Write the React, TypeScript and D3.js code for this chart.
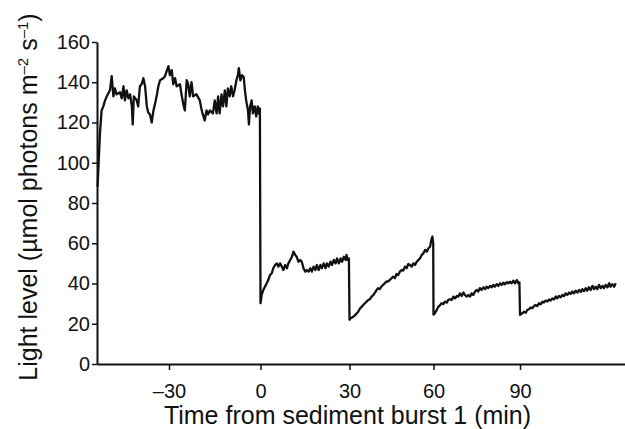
import React, { useEffect, useRef } from 'react';
import * as d3 from 'd3';

type Point = [number, number];

// [time from burst 1 (min), light level (µmol photons m-2 s-1)]
const beforeBurst: Point[] = [
  [-54.8, 88], [-54.0, 114], [-53.4, 126], [-52.8, 128], [-52.2, 131], [-51.6, 133],
  [-50.5, 136], [-49.9, 143], [-49.3, 133], [-48.8, 137], [-48.2, 134], [-47.0, 135],
  [-46.4, 132], [-45.8, 138], [-45.3, 131], [-44.7, 136], [-44.1, 132], [-43.5, 134],
  [-42.9, 128], [-42.6, 119], [-42.2, 133], [-41.2, 131], [-40.7, 128], [-40.1, 138],
  [-39.5, 139], [-38.9, 142], [-38.3, 138], [-37.7, 128], [-37.2, 125], [-36.6, 124],
  [-36.0, 120], [-35.4, 126], [-34.9, 129], [-34.3, 133], [-33.7, 138], [-33.1, 141],
  [-32.0, 142], [-31.4, 143], [-30.2, 148], [-29.7, 143.5], [-29.1, 146], [-28.6, 139],
  [-28.0, 142], [-27.5, 138], [-26.4, 139], [-25.9, 134], [-25.3, 129], [-24.8, 126],
  [-24.2, 141], [-23.7, 139], [-23.2, 133], [-22.6, 140], [-22.1, 133], [-21.0, 134],
  [-19.9, 131], [-19.4, 127], [-18.9, 124], [-18.3, 121], [-17.7, 126], [-17.2, 124],
  [-16.6, 126], [-15.6, 124.5], [-15.0, 131], [-14.4, 124.5], [-13.9, 133], [-13.4, 124.5],
  [-12.8, 134], [-12.3, 128], [-11.7, 136], [-11.2, 128], [-10.7, 137], [-10.1, 133],
  [-9.6, 138], [-9.0, 133], [-8.5, 136], [-7.9, 141], [-7.4, 143.5], [-7.1, 147],
  [-6.6, 141], [-6.0, 143.5], [-5.5, 142.5], [-5.1, 136], [-4.7, 131], [-4.1, 126],
  [-3.8, 119], [-3.4, 128], [-2.9, 131], [-2.5, 124.5], [-1.9, 128], [-1.4, 123],
  [-0.9, 128], [-0.6, 124.5], [-0.2, 127],
];

const afterBurst1: Point[] = [
  [0, 30.2], [0.4, 34.3], [0.95, 36.8], [1.5, 38.4], [2.1, 40.1], [2.6, 41.7],
  [3.2, 44.2], [3.8, 45.1], [4.3, 47.6], [4.9, 49.2], [5.5, 50], [6.0, 48.4],
  [6.6, 50], [7.2, 48.4], [7.7, 46.7], [8.3, 49.2], [8.9, 47.6], [9.4, 50],
  [10.0, 51.7], [10.6, 53.3], [11.1, 55.8], [11.7, 54.2], [12.2, 53.3], [12.8, 50.8],
  [13.4, 51.7], [13.9, 50.8], [14.5, 47.6], [15.1, 45.9], [15.6, 46.7], [16.2, 45.9],
  [16.8, 47.6], [17.3, 45.9], [17.9, 48.4], [18.5, 46.7], [19.0, 49.2], [19.6, 46.7],
  [20.2, 49.2], [20.7, 47.6], [21.3, 50], [21.9, 47.6], [22.4, 50], [23.0, 48.4],
  [23.6, 50.8], [24.1, 49.2], [24.7, 51.7], [25.3, 50], [25.8, 52.5], [26.4, 50],
  [27.0, 52.5], [27.5, 50.8], [28.1, 53.3], [28.7, 51.7], [29.0, 54.2], [29.4, 51.7],
  [29.8, 52.5],
];

const afterBurst2: Point[] = [
  [30.0, 22], [30.4, 22.7], [31.1, 23.2], [32.0, 24.3], [32.6, 25.2], [33.1, 26.0],
  [33.8, 27.7], [34.4, 28.5], [34.9, 29.3], [35.5, 30.2], [36.1, 31.0], [36.7, 31.8],
  [37.3, 32.2], [37.9, 33.5], [38.5, 34.3], [39.1, 35.5], [39.7, 36.8], [40.2, 37.7],
  [40.8, 37.2], [41.4, 38.5], [42.0, 39.3], [42.6, 40.1], [43.2, 41.0], [43.8, 41.0],
  [44.4, 41.8], [45.0, 42.6], [45.6, 43.4], [46.2, 42.6], [46.8, 44.7], [47.4, 44.2],
  [48.0, 45.9], [48.6, 46.7], [49.2, 46.4], [49.8, 48.4], [50.4, 47.6], [51.0, 49.7],
  [51.6, 49.2], [52.2, 48.4], [52.8, 50.0], [53.4, 49.2], [54.0, 50.8], [54.6, 51.7],
  [55.2, 52.5], [55.8, 54.2], [56.4, 55.0], [57.0, 56.7], [57.6, 55.8], [58.2, 57.5],
  [58.8, 58.3], [59.2, 61.6], [59.6, 63.3], [59.9, 60],
];

const afterBurst3: Point[] = [
  [60.0, 24.5], [60.5, 25.2], [61.1, 26.8], [61.7, 28.5], [62.3, 29.3], [62.8, 30.2],
  [63.4, 29.8], [64.0, 31.0], [64.6, 30.5], [65.1, 31.8], [65.7, 32.2], [66.3, 31.8],
  [66.9, 33.5], [67.5, 32.6], [68.1, 33.8], [68.6, 33.5], [69.2, 35.1], [69.8, 33.8],
  [70.4, 35.5], [70.9, 34.3], [71.5, 33.5], [72.1, 34.3], [72.7, 33.5], [73.2, 35.1],
  [73.8, 34.3], [74.4, 36.0], [75.0, 36.8], [75.5, 36.0], [76.1, 37.7], [76.7, 36.8],
  [77.3, 38.1], [77.9, 37.2], [78.4, 38.4], [79.0, 37.7], [79.6, 38.8], [80.2, 38.1],
  [80.7, 39.3], [81.3, 38.4], [81.9, 39.7], [82.5, 38.8], [83.1, 40.1], [83.7, 39.3],
  [84.2, 40.4], [84.8, 39.6], [85.4, 40.7], [86.0, 40.1], [86.5, 40.9], [87.1, 40.1],
  [87.7, 41.4], [88.3, 40.1], [88.9, 41.7], [89.4, 40.1], [89.8, 40.5],
];

const afterBurst4: Point[] = [
  [90.0, 24.4], [90.8, 25.2], [91.4, 26.0], [92.0, 25.5], [92.5, 26.8], [93.1, 27.2],
  [93.7, 28.1], [94.3, 27.7], [94.9, 28.8], [95.4, 29.3], [96.0, 28.8], [96.6, 30.2],
  [97.2, 29.7], [97.8, 31.0], [98.3, 30.5], [98.9, 31.5], [99.5, 31.0], [100.1, 32.1],
  [100.6, 31.5], [101.2, 32.6], [101.8, 32.1], [102.4, 33.5], [102.9, 32.6], [103.5, 33.8],
  [104.1, 33.1], [104.7, 34.3], [105.3, 33.8], [105.8, 35.1], [106.4, 34.3], [107.0, 35.5],
  [107.6, 34.8], [108.1, 36.0], [108.7, 35.1], [109.3, 36.4], [109.9, 35.5], [110.5, 36.8],
  [111.1, 35.8], [111.6, 37.2], [112.2, 36.2], [112.8, 37.7], [113.3, 36.4], [113.9, 38.1],
  [114.5, 36.8], [115.1, 38.8], [115.7, 37.2], [116.2, 38.4], [116.8, 37.2], [117.4, 39.3],
  [118.0, 37.7], [118.6, 38.8], [119.1, 37.7], [119.7, 39.3], [120.3, 38.1], [120.9, 40.1],
  [121.4, 38.4], [122.0, 39.7], [122.6, 38.4], [123.2, 40.1],
];

const xTicks: number[] = [-30, 0, 30, 60, 90];
const yTicks: number[] = [0, 20, 40, 60, 80, 100, 120, 140, 160];

const width = 625;
const height = 429;
const font = '"Liberation Sans", Arial, Helvetica, sans-serif';

const App = () => {
  const xAxisRef = useRef<SVGGElement | null>(null);
  const yAxisRef = useRef<SVGGElement | null>(null);

  // the printed axis is not evenly spaced, so each labelled tick gets its own stop
  const x = d3
    .scaleLinear()
    .domain([-55, -30, 0, 30, 60, 90, 126.4])
    .range([97, 169, 260.5, 349.5, 433.5, 520, 625]);
  const y = d3.scaleLinear().domain([0, 160]).range([364, 42]);

  const series: Point[] = [
    ...beforeBurst,
    ...afterBurst1,
    ...afterBurst2,
    ...afterBurst3,
    ...afterBurst4,
  ];

  const line = d3
    .line<Point>()
    .x((d) => x(d[0]))
    .y((d) => y(d[1]));

  useEffect(() => {
    const gx = d3.select(xAxisRef.current);
    gx.call(
      d3
        .axisBottom(x)
        .tickValues(xTicks)
        .tickFormat((d) => String(d).replace('-', '\u2013'))
        .tickSize(6)
        .tickSizeOuter(0)
        .tickPadding(14)
    );
    gx.attr('font-size', 20).attr('font-family', font);
    gx.select('.domain').attr('stroke-width', 2).attr('stroke', '#111');
    gx.selectAll('.tick line').attr('stroke-width', 1.5).attr('stroke', '#111');
    gx.selectAll('.tick text').attr('fill', '#111');

    const gy = d3.select(yAxisRef.current);
    gy.call(
      d3
        .axisLeft(y)
        .tickValues(yTicks)
        .tickSize(5)
        .tickSizeOuter(0)
        .tickPadding(2)
    );
    gy.attr('font-size', 20).attr('font-family', font);
    gy.select('.domain').attr('stroke-width', 2).attr('stroke', '#111');
    gy.selectAll('.tick line').attr('stroke-width', 1.5).attr('stroke', '#111');
    gy.selectAll('.tick text').attr('fill', '#111');
  });

  return (
    <svg
      width={width}
      height={height}
      style={{ position: 'absolute', left: 0, top: 0, background: '#fff' }}
    >
      <path
        d={line(series) || ''}
        fill="none"
        stroke="#111"
        strokeWidth={2.3}
        strokeLinejoin="round"
      />
      <g ref={yAxisRef} transform="translate(97,0)" />
      <g ref={xAxisRef} transform="translate(0,364)" />
      <text
        x={347.5}
        y={424}
        textAnchor="middle"
        fontSize={25}
        fontFamily={font}
        fill="#111"
      >
        Time from sediment burst 1 (min)
      </text>
      <text
        transform="translate(37,197) rotate(-90)"
        textAnchor="middle"
        fontSize={25}
        fontFamily={font}
        fill="#111"
      >
        Light level (µmol photons m
        <tspan dy={-9} fontSize={15}>
          –2
        </tspan>
        <tspan dy={9}> s</tspan>
        <tspan dy={-9} fontSize={15}>
          –1
        </tspan>
        <tspan dy={9}>)</tspan>
      </text>
    </svg>
  );
};

export default App;
